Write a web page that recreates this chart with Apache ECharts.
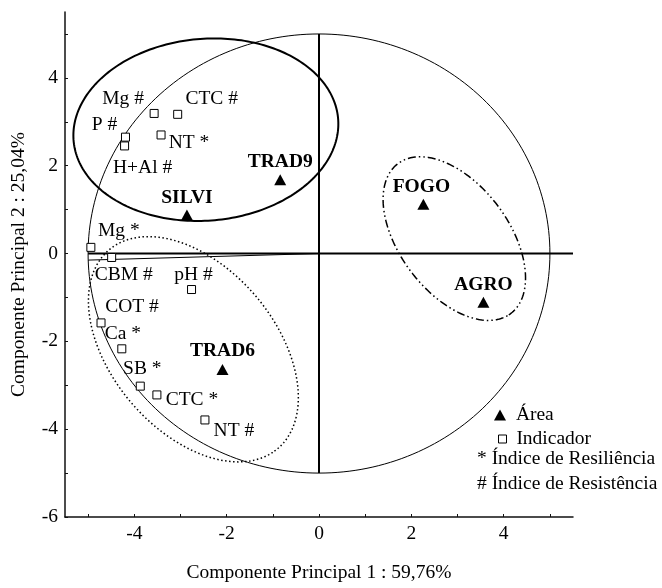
<!DOCTYPE html>
<html><head><meta charset="utf-8">
<script src="https://cdn.jsdelivr.net/npm/echarts@6/dist/echarts.min.js"></script>
<style>html,body{margin:0;padding:0;background:#fff}#c{width:662px;height:588px}</style>
</head><body><div id="c"></div>
<script>
// ---- data ----
const areaNames = ['TRAD9', 'SILVI', 'TRAD6', 'FOGO', 'AGRO'];
const areaPC1 = [-0.84, -2.86, -2.09, 2.26, 3.56];
const areaPC2 = [1.68, 0.88, -2.64, 1.12, -1.11];

const indNames = ['Mg #', 'CTC #', 'P #', 'NT *', 'H+Al #', 'Mg *', 'CBM #', 'pH #', 'COT #', 'Ca *', 'SB *', 'CTC *', 'NT #'];
const indPC1 = [-3.57, -3.06, -4.19, -3.42, -4.21, -4.94, -4.49, -2.76, -4.72, -4.27, -3.87, -3.51, -2.47];
const indPC2 = [3.19, 3.17, 2.65, 2.70, 2.45, 0.14, -0.09, -0.82, -1.58, -2.17, -3.02, -3.22, -3.79];

const xLabelValues = [-4, -2, 0, 2, 4];
const yLabelValues = [-6, -4, -2, 0, 2, 4];
const xTickValues = [-5, -4, -3, -2, -1, 0, 1, 2, 3, 4, 5];
const yTickValues = [-6, -5, -4, -3, -2, -1, 0, 1, 2, 3, 4, 5];

// ellipses: [centerPC1, centerPC2, semiAxisA, semiAxisB, angleDeg]
const circleEllipse = [0, 0, 5, 5, 0];
const topGroupEllipse = [-2.45, 2.82, 2.875, 2.07, 5.5];
const bottomGroupEllipse = [-2.72, -2.18, 2.91, 1.81, -52.9];
const rightGroupEllipse = [2.93, 0.34, 2.10, 1.20, -55.8];

// reference lines
const hAxisLine = [[-5, 0], [5.5, 0]];
const vAxisLine = [[0, -5], [0, 5]];
const radiusLine = [[-5, -0.15], [0, 0]];

const legendExtra = ['* Índice de Resiliência', '# Índice de Resistência'];
const xName = 'Componente Principal 1 : 59,76%';
const yName = 'Componente Principal 2 : 25,04%';

// ---- styling (label placement offsets in px) ----
const indLabelOffsets = [[-31, -15], [34, -15], [-21, -12], [28, 8], [18, 22], [28, -16], [12, 17], [2, -15], [31, -16], [1, -15], [2, -17], [35, 5], [29, 11]];
const areaLabelOffsets = [[0, -18], [0, -17], [0, -18], [-2, -17], [0, -17]];

const FONT = 'Liberation Serif';
const FS = 19.5;

function ellipseSeries(params, style) {
  return {
    type: 'custom',
    silent: true,
    data: [params],
    encode: { x: 0, y: 1 },
    renderItem: function (p, api) {
      const cx = api.value(0), cy = api.value(1), a = api.value(2), b = api.value(3);
      const t = api.value(4) * Math.PI / 180;
      const pts = [];
      const N = 240;
      for (let i = 0; i <= N; i++) {
        const u = i / N * 2 * Math.PI;
        const x = cx + a * Math.cos(t) * Math.cos(u) - b * Math.sin(t) * Math.sin(u);
        const y = cy + a * Math.sin(t) * Math.cos(u) + b * Math.cos(t) * Math.sin(u);
        pts.push(api.coord([x, y]));
      }
      return { type: 'polyline', shape: { points: pts }, style: Object.assign({ fill: null, stroke: '#000' }, style) };
    },
    z: 1
  };
}

function lineSeries(pts, width) {
  return {
    type: 'line', data: pts, symbol: 'none', silent: true,
    lineStyle: { color: '#000', width: width }, z: 2
  };
}

const legendText = { fontFamily: FONT, fontSize: FS, color: '#000' };

const chart = echarts.init(document.getElementById('c'));
chart.setOption({
  animation: false,
  backgroundColor: '#fff',
  textStyle: { fontFamily: FONT },
  grid: { left: 65, right: 89, top: 12, bottom: 67, containLabel: false },
  xAxis: {
    type: 'value', min: -5.5, max: 5.5,
    name: xName, nameLocation: 'middle', nameGap: 46,
    nameTextStyle: { fontFamily: FONT, fontSize: FS, color: '#000' },
    axisLine: { onZero: false, lineStyle: { color: '#111', width: 1.5 } },
    axisTick: { inside: true, length: 3, customValues: xTickValues, lineStyle: { color: '#111' } },
    axisLabel: { customValues: xLabelValues, fontFamily: FONT, fontSize: FS, color: '#000', margin: 7 },
    splitLine: { show: false }
  },
  yAxis: {
    type: 'value', min: -6, max: 5.5,
    name: yName, nameLocation: 'middle', nameGap: 36, nameRotate: 90,
    nameTextStyle: { fontFamily: FONT, fontSize: FS, color: '#000' },
    axisLine: { onZero: false, lineStyle: { color: '#111', width: 1.5 } },
    axisTick: { inside: true, length: 3, customValues: yTickValues, lineStyle: { color: '#111' } },
    axisLabel: { customValues: yLabelValues, fontFamily: FONT, fontSize: FS, color: '#000', margin: 7 },
    splitLine: { show: false }
  },
  legend: [
    {
      left: 489, top: 400, itemWidth: 12, itemHeight: 11, textStyle: legendText,
      formatter: function (n) { return ' ' + n; },
      data: [{ name: 'Área', icon: 'triangle' }]
    },
    {
      left: 493, top: 424, itemWidth: 8, itemHeight: 8, textStyle: legendText,
      itemStyle: { borderWidth: 1 },
      formatter: function (n) { return ' ' + n; },
      data: [{ name: 'Indicador', icon: 'rect' }]
    }
  ],
  graphic: legendExtra.map(function (t, i) {
    return { type: 'text', left: 477, top: 449 + i * 25, style: { text: t, font: FS + 'px "' + FONT + '"', fill: '#000' } };
  }),
  series: [
    ellipseSeries(circleEllipse, { lineWidth: 1 }),
    ellipseSeries(topGroupEllipse, { lineWidth: 2 }),
    ellipseSeries(bottomGroupEllipse, { lineWidth: 1.5, lineDash: [1.5, 2.5] }),
    ellipseSeries(rightGroupEllipse, { lineWidth: 1.5, lineDash: [8, 3, 1.5, 3, 1.5, 3] }),
    lineSeries(hAxisLine, 2),
    lineSeries(vAxisLine, 2),
    lineSeries(radiusLine, 1),
    {
      name: 'Indicador', type: 'scatter', symbol: 'rect', symbolSize: 8, z: 5,
      itemStyle: { color: '#fff', borderColor: '#000', borderWidth: 1, opacity: 1 },
      data: indNames.map(function (n, i) {
        return {
          name: n, value: [indPC1[i], indPC2[i]],
          label: { show: true, position: 'inside', offset: indLabelOffsets[i], formatter: n, fontFamily: FONT, fontSize: FS, color: '#000', textBorderWidth: 0 }
        };
      })
    },
    {
      name: 'Área', type: 'scatter', symbol: 'triangle', symbolSize: [12, 11], z: 6,
      itemStyle: { color: '#000', opacity: 1 },
      data: areaNames.map(function (n, i) {
        return {
          name: n, value: [areaPC1[i], areaPC2[i]],
          label: { show: true, position: 'inside', offset: areaLabelOffsets[i], formatter: n, fontFamily: FONT, fontSize: FS, fontWeight: 'bold', color: '#000', textBorderWidth: 0 }
        };
      })
    }
  ]
});
</script>
</body></html>
